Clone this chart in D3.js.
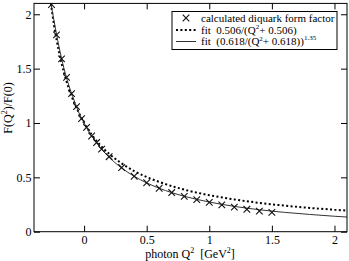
<!DOCTYPE html>
<html>
<head>
<meta charset="utf-8">
<script src="https://cdn.jsdelivr.net/npm/d3@7"></script>
<style>
  body { margin: 0; background: #fff; }
</style>
</head>
<body>
<div id="chart"></div>
<script>
// calculated diquark form factor (crosses)
const calcQ2 = [-0.26, -0.22, -0.18, -0.14, -0.10, -0.06, -0.02, 0.02, 0.06, 0.10, 0.14, 0.20,
                0.30, 0.40, 0.50, 0.60, 0.70, 0.80, 0.90, 1.00, 1.10, 1.20, 1.30, 1.40, 1.50]
const calcF = [2.09, 1.81, 1.59, 1.42, 1.27, 1.15, 1.04, 0.96, 0.88, 0.82, 0.76, 0.69,
               0.59, 0.51, 0.45, 0.40, 0.36, 0.325, 0.295, 0.27, 0.247, 0.226, 0.206, 0.189, 0.178]

// fit curves
const fitQ2 = [-0.265, -0.24, -0.20, -0.16, -0.12, -0.08, -0.04, 0, 0.05, 0.10, 0.15, 0.20, 0.30,
               0.40, 0.50, 0.60, 0.80, 1.00, 1.20, 1.40, 1.60, 1.80, 2.00, 2.10]
const monoF = [2.10, 1.90, 1.65, 1.46, 1.31, 1.19, 1.09, 1.00, 0.91, 0.835, 0.77, 0.717, 0.628,
               0.558, 0.503, 0.458, 0.387, 0.336, 0.297, 0.265, 0.24, 0.219, 0.202, 0.194]
const powF = [2.10, 1.94, 1.70, 1.50, 1.34, 1.21, 1.09, 1.00, 0.90, 0.817, 0.746, 0.685, 0.586,
              0.51, 0.449, 0.40, 0.326, 0.273, 0.233, 0.202, 0.178, 0.159, 0.142, 0.135]

const xTicks = [0, 0.5, 1, 1.5, 2]
const yTicks = [0, 0.5, 1, 1.5, 2]

const W = 349, H = 261
const margin = {top: 3.4, right: 2, bottom: 29.3, left: 34}
const width = W - margin.left - margin.right
const height = H - margin.top - margin.bottom

const svg = d3.select("#chart").append("svg")
    .attr("width", W)
    .attr("height", H)

const g = svg.append("g")
    .attr("transform", "translate(" + margin.left + "," + margin.top + ")")

const x = d3.scaleLinear().domain([-0.4, 2.1]).range([0, width])
const y = d3.scaleLinear().domain([0, 2.1]).range([height, 0])

// clip
g.append("clipPath").attr("id", "clip")
  .append("rect").attr("width", width).attr("height", height)

const plot = g.append("g").attr("clip-path", "url(#clip)")

const line = d3.line()
    .x((d, i) => x(fitQ2[i]))
    .y(d => y(d))
    .curve(d3.curveMonotoneX)

// dotted fit
plot.append("path")
  .datum(monoF)
  .attr("d", line)
  .attr("fill", "none")
  .attr("stroke", "#000")
  .attr("stroke-width", 2)
  .attr("stroke-dasharray", "2,2.4")

// solid fit
plot.append("path")
  .datum(powF)
  .attr("d", line)
  .attr("fill", "none")
  .attr("stroke", "#333")
  .attr("stroke-width", 1)

// crosses
const s = 3.3
function cross(cx, cy) {
  return "M" + (cx - s) + "," + (cy - s) + "L" + (cx + s) + "," + (cy + s) +
         "M" + (cx - s) + "," + (cy + s) + "L" + (cx + s) + "," + (cy - s)
}
plot.append("g")
  .selectAll("path")
  .data(calcQ2)
  .enter()
  .append("path")
    .attr("d", (d, i) => cross(x(d), y(calcF[i])))
    .attr("stroke", "#111")
    .attr("stroke-width", 1.1)
    .attr("fill", "none")

// axes, ticks inside on all four sides
const minorX = d3.range(-3, 22).map(d => d / 10)
const minorY = d3.range(1, 21).map(d => d / 10)

function drawAxis(axisFn, scale, ticks, minor, transform, labels) {
  const a = g.append("g").attr("transform", transform)
  a.call(axisFn(scale).tickValues(minor).tickSize(-3).tickFormat(""))
  a.call(axisFn(scale).tickValues(ticks).tickSize(-6).tickFormat(labels ? d3.format("") : ""))
  a.select(".domain").remove()
  a.selectAll("line").attr("stroke", "#000")
  a.selectAll("text").attr("font-size", 12)
  return a
}

// bottom
const xb = drawAxis(d3.axisBottom, x, xTicks, minorX, "translate(0," + height + ")", true)
xb.selectAll("text").attr("y", 12).attr("dy", 0)
// top
drawAxis(d3.axisTop, x, xTicks, minorX, "translate(0,0)", false)
// left
const yl = drawAxis(d3.axisLeft, y, yTicks, minorY, "translate(0,0)", true)
yl.selectAll("text").attr("x", -2.5).attr("dy", "0.33em")
// right
drawAxis(d3.axisRight, y, yTicks, minorY, "translate(" + width + ",0)", false)

// frame
g.append("rect")
  .attr("width", width).attr("height", height)
  .attr("fill", "none").attr("stroke", "#000").attr("stroke-width", 1)

// axis labels
const xl = svg.append("text")
  .attr("x", 190).attr("y", 257.5)
  .attr("text-anchor", "middle")
  .attr("font-size", 12)
xl.append("tspan").text("photon Q")
xl.append("tspan").attr("dy", -5).attr("font-size", 8).text("2")
xl.append("tspan").attr("dy", 5).text("\u00a0 [GeV")
xl.append("tspan").attr("dy", -5).attr("font-size", 8).text("2")
xl.append("tspan").attr("dy", 5).text("]")

const ylab = svg.append("text")
  .attr("transform", "translate(11.5,108) rotate(-90)")
  .attr("text-anchor", "middle")
  .attr("font-size", 12)
ylab.append("tspan").text("F(Q")
ylab.append("tspan").attr("dy", -5).attr("font-size", 8).text("2")
ylab.append("tspan").attr("dy", 5).text(")/F(0)")

// legend
const lg = svg.append("g")
lg.append("rect")
  .attr("x", 172).attr("y", 11.5).attr("width", 165).attr("height", 38)
  .attr("fill", "#fff").attr("stroke", "#000").attr("stroke-width", 1)

const rows = [21.5, 33.5, 45]
const lx0 = 176, lx1 = 196, tx = 201, fs = 11
// row 1: cross
lg.append("path")
  .attr("d", cross(186, rows[0] - 3.5))
  .attr("stroke", "#111").attr("stroke-width", 1.1)
lg.append("text").attr("x", tx).attr("y", rows[0]).attr("font-size", fs)
  .text("calculated diquark form factor")

// row 2: dotted
lg.append("line").attr("x1", lx0).attr("x2", lx1).attr("y1", rows[1] - 3.5).attr("y2", rows[1] - 3.5)
  .attr("stroke", "#000").attr("stroke-width", 2).attr("stroke-dasharray", "2,2.4")
const t2 = lg.append("text").attr("x", tx).attr("y", rows[1]).attr("font-size", fs)
t2.append("tspan").text("fit\u00a0 0.506/(Q")
t2.append("tspan").attr("dy", -4.5).attr("font-size", 7).text("2")
t2.append("tspan").attr("dy", 4.5).text("+ 0.506)")

// row 3: solid
lg.append("line").attr("x1", lx0).attr("x2", lx1).attr("y1", rows[2] - 3.5).attr("y2", rows[2] - 3.5)
  .attr("stroke", "#333").attr("stroke-width", 1)
const t3 = lg.append("text").attr("x", tx).attr("y", rows[2]).attr("font-size", fs)
t3.append("tspan").text("fit\u00a0 (0.618/(Q")
t3.append("tspan").attr("dy", -4.5).attr("font-size", 7).text("2")
t3.append("tspan").attr("dy", 4.5).text("+ 0.618))")
t3.append("tspan").attr("dy", -5.5).attr("font-size", 7).text("1.35")

// serif font everywhere
svg.selectAll("text").style("font-family", "'Liberation Serif'").attr("fill", "#000")
</script>
</body>
</html>
